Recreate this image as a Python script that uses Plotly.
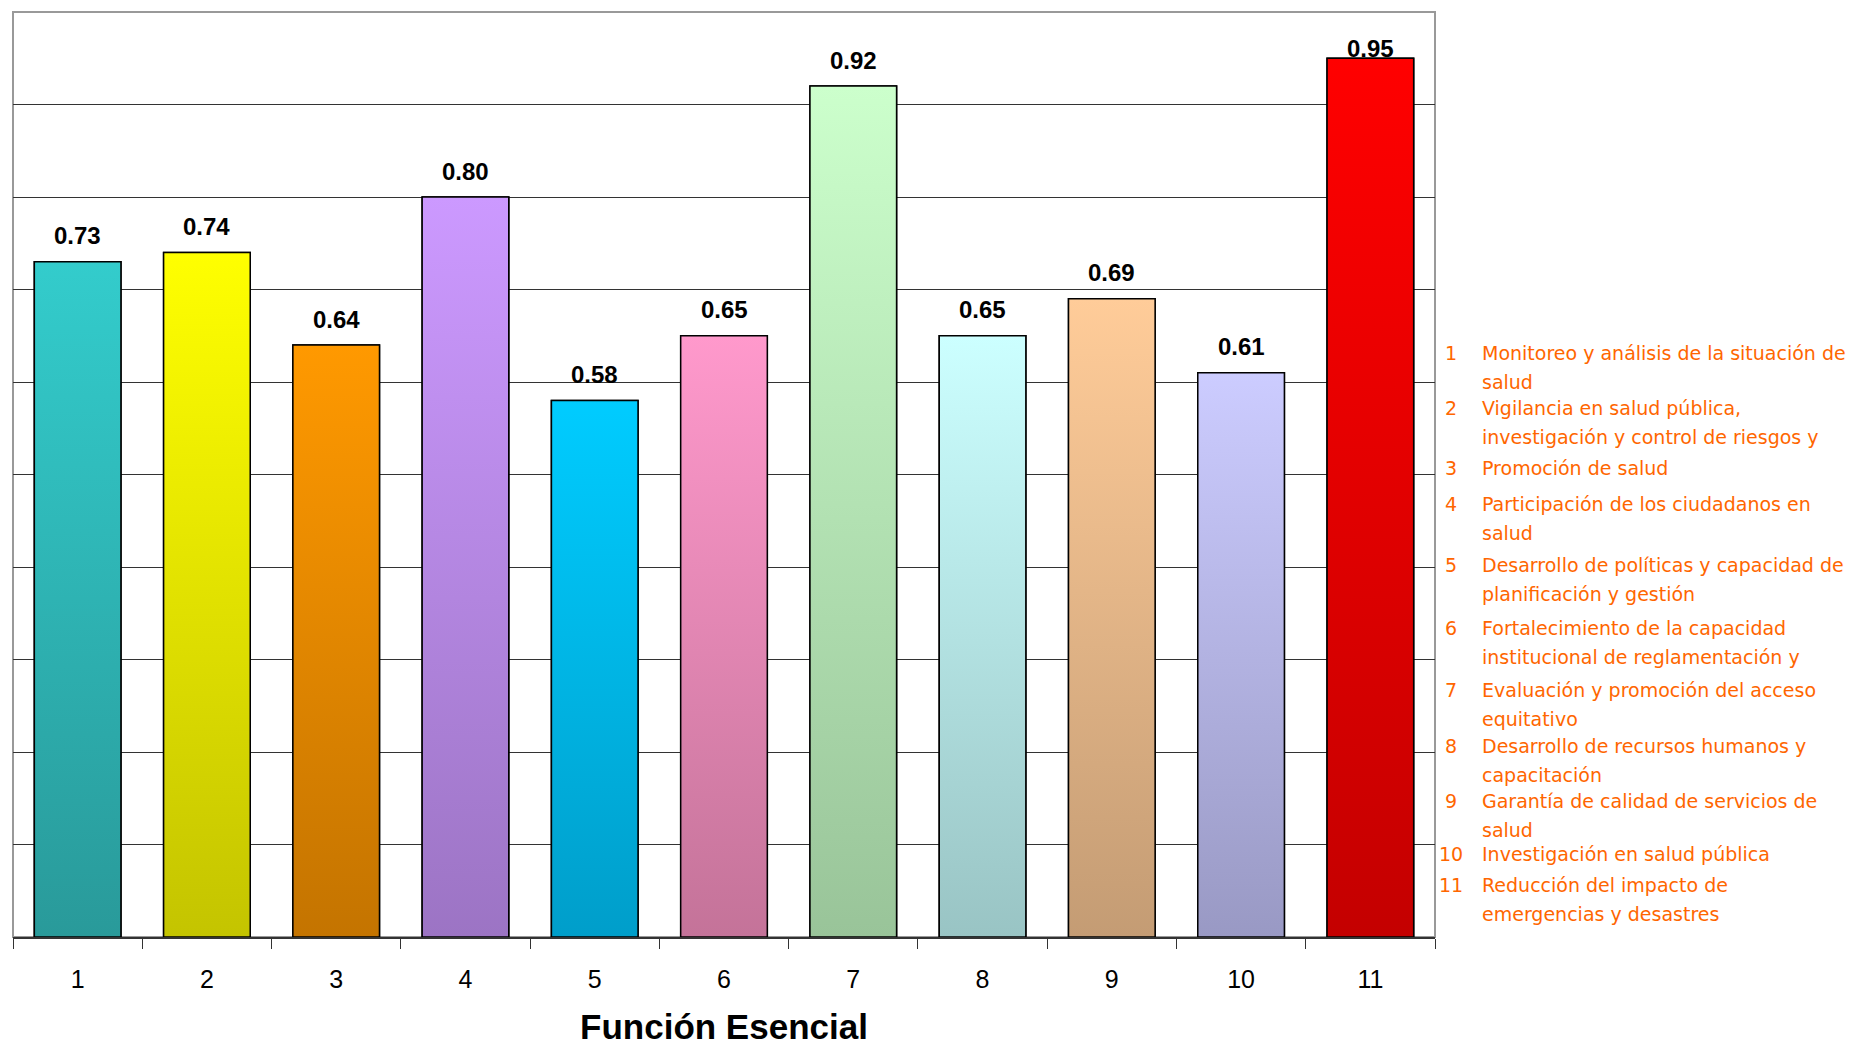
import plotly.graph_objects as go

# ---------------- data ----------------
categories = ["1", "2", "3", "4", "5", "6", "7", "8", "9", "10", "11"]
values = [0.73, 0.74, 0.64, 0.80, 0.58, 0.65, 0.92, 0.65, 0.69, 0.61, 0.95]
value_labels = ["0.73", "0.74", "0.64", "0.80", "0.58", "0.65", "0.92", "0.65", "0.69", "0.61", "0.95"]
top_colors = ["#33CCCC", "#FFFF00", "#FF9900", "#CC99FF", "#00CCFF", "#FF99CC",
              "#CCFFCC", "#CCFFFF", "#FFCC99", "#CCCCFF", "#FF0000"]
bottom_colors = ["#299A9A", "#C4C400", "#C47400", "#9C74C4", "#009ECA", "#C47399",
                 "#99C499", "#99C4C4", "#C49C74", "#9999C4", "#C40000"]
legend_numbers = ["1", "2", "3", "4", "5", "6", "7", "8", "9", "10", "11"]
legend_lines = [
    ["Monitoreo y análisis de la situación de", "salud"],
    ["Vigilancia en salud pública,", "investigación y control de riesgos y"],
    ["Promoción de salud"],
    ["Participación de los ciudadanos en", "salud"],
    ["Desarrollo de políticas y capacidad de", "planificación y gestión"],
    ["Fortalecimiento de la capacidad", "institucional de reglamentación y"],
    ["Evaluación y promoción del acceso", "equitativo"],
    ["Desarrollo de recursos humanos y", "capacitación"],
    ["Garantía de calidad de servicios de", "salud"],
    ["Investigación en salud pública"],
    ["Reducción del impacto de", "emergencias y desastres"],
]
x_title = "Función Esencial"

# ---------------- layout constants ----------------
W, H = 1864, 1049
PAGE_OFF = 8                      # default body margin of the html page
PLOT_L, PLOT_R, PLOT_T, PLOT_B = 13, 1435, 12, 937   # target page pixels
ML = PLOT_L - PAGE_OFF
MT = PLOT_T - PAGE_OFF
MR = W - (PLOT_R - PAGE_OFF)
MB = H - (PLOT_B - PAGE_OFF)
PLOT_W = PLOT_R - PLOT_L
PLOT_H = PLOT_B - PLOT_T
BAR_W = 0.67
LABEL_GAP_PX = 26        # label centre above bar top
LABEL_MIN_Y_PX = 48      # labels are kept below this page y
LEGEND_Y_PX = [353, 408, 468, 504, 565, 628, 690, 746, 801, 854, 885]
LINE_PX = 29
NUM_X_PX = 1451
TEXT_X_PX = 1480
ORANGE = "#FF6600"
NARROW = "Liberation Sans Narrow, Arial Narrow, Liberation Sans, Arial"


def px_to_paper_x(px):
    return (px - PLOT_L) / PLOT_W


def px_to_paper_y(py):
    return (PLOT_B - py) / PLOT_H


xs = list(range(1, len(categories) + 1))

fig = go.Figure()

# base bars (data)
fig.add_trace(go.Bar(
    x=xs, y=values, width=BAR_W,
    marker=dict(color=top_colors, line=dict(color="#000000", width=1.5)),
    hoverinfo="skip", showlegend=False,
))

# gradient overlays derived from the same values
for x, v, ctop, cbot in zip(xs, values, top_colors, bottom_colors):
    h = BAR_W / 2
    fig.add_trace(go.Scatter(
        x=[x - h, x - h, x + h, x + h, x - h],
        y=[0, v, v, 0, 0],
        mode="lines", fill="toself",
        fillgradient=dict(type="vertical", start=0, stop=v,
                          colorscale=[[0, cbot], [1, ctop]]),
        line=dict(color="#000000", width=1.5),
        hoverinfo="skip", showlegend=False,
    ))

annotations = []
for x, v, lab in zip(xs, values, value_labels):
    bar_top_px = PLOT_B - v * PLOT_H
    centre_px = max(bar_top_px - LABEL_GAP_PX, LABEL_MIN_Y_PX)
    annotations.append(dict(
        x=x, y=v, xref="x", yref="y", text=lab, showarrow=False,
        yanchor="middle", yshift=bar_top_px - centre_px,
        font=dict(family="Liberation Sans, Arial", size=24, color="#000000", weight="bold"),
    ))

for num, lines, ypx in zip(legend_numbers, legend_lines, LEGEND_Y_PX):
    annotations.append(dict(
        x=px_to_paper_x(NUM_X_PX), y=px_to_paper_y(ypx), xref="paper", yref="paper",
        text=num, showarrow=False, xanchor="center", yanchor="middle",
        font=dict(family="DejaVu Sans", size=19, color=ORANGE),
    ))
    for i, line in enumerate(lines):
        annotations.append(dict(
            x=px_to_paper_x(TEXT_X_PX), y=px_to_paper_y(ypx + i * LINE_PX),
            xref="paper", yref="paper", text=line, showarrow=False,
            xanchor="left", yanchor="middle",
            font=dict(family="DejaVu Sans", size=19, color=ORANGE),
        ))

fig.update_layout(
    width=W, height=H,
    margin=dict(l=ML, r=MR, t=MT, b=MB, pad=0),
    paper_bgcolor="#FFFFFF", plot_bgcolor="#FFFFFF",
    showlegend=False,
    annotations=annotations,
    bargap=0.33,
    shapes=[dict(type="rect", xref="paper", yref="paper", x0=0, x1=1, y0=0, y1=1,
                 line=dict(color="#999999", width=2), layer="below")],
)

fig.update_xaxes(
    range=[0.5, len(categories) + 0.5],
    tickmode="array", tickvals=xs, ticktext=categories,
    ticks="", ticklabelstandoff=19,
    tickfont=dict(family=NARROW, size=25, color="#000000"),
    showgrid=False, zeroline=False,
    showline=True, linecolor="#333333", linewidth=1.5,
    minor=dict(tickmode="array", tickvals=[x + 0.5 for x in [0] + xs],
               ticks="outside", ticklen=10, tickcolor="#333333", tickwidth=1, showgrid=False),
    title=dict(text=x_title, standoff=23,
               font=dict(family=NARROW, size=35, color="#000000", weight="bold")),
    fixedrange=True,
)
fig.update_yaxes(
    range=[0, 1.0], dtick=0.1, showticklabels=False, ticks="",
    showgrid=True, gridcolor="#333333", gridwidth=1,
    zeroline=False, showline=False, fixedrange=True,
)

fig.write_html("out.html")
